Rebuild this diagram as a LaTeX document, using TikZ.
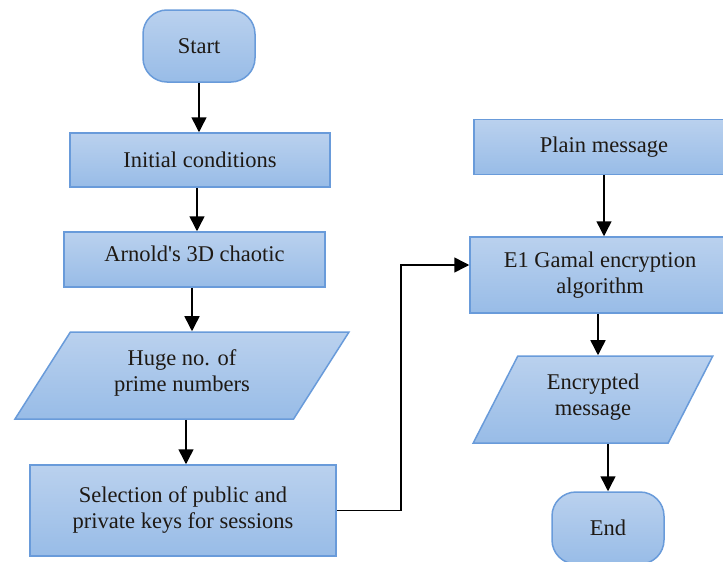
\documentclass[tikz,border=0pt]{standalone}
\usepackage{fontspec}
\setmainfont{Liberation Serif}
\usetikzlibrary{shapes.geometric,arrows.meta}
\definecolor{boxtop}{RGB}{186,209,238}
\definecolor{boxbot}{RGB}{152,188,231}
\definecolor{boxline}{RGB}{105,155,218}
\definecolor{ink}{RGB}{30,25,20}
\begin{document}
\begin{tikzpicture}[x=1pt,y=1pt,
    every node/.style={font=\fontsize{22.5}{26}\selectfont, text=ink, align=center},
    box/.style={draw=boxline, line width=1.5pt, top color=boxtop, bottom color=boxbot, inner sep=0pt},
    startend/.style={box, rounded corners=24pt, minimum width=112pt, minimum height=72pt},
    io/.style={box, trapezium, trapezium stretches=true, minimum height=87pt},
    arr/.style={line width=1.5pt, -{Triangle[length=15pt,width=15pt]}}]
  \useasboundingbox (0,0) rectangle (723,-562);
  \draw
    (199,-46) node[startend] (start) {Start}
    (200,-160) node[box, minimum width=260pt, minimum height=54pt] (init) {Initial conditions}
    (194.5,-259.5) node[box, minimum width=261pt, minimum height=55pt] (arnold) {Arnold\textquotesingle s 3D chaotic\\[-15pt]\mbox{}}
    (182,-375.5) node[io, trapezium left angle=57, trapezium right angle=123, minimum width=335pt] (huge) {Huge no. of\\prime numbers\\[-16pt]\mbox{}}
    (183,-510.5) node[box, minimum width=306pt, minimum height=91pt] (select) {Selection of public and\\private keys for sessions}
    (604,-147) node[box, minimum width=260pt, minimum height=55pt] (plain) {Plain message}
    (600,-275) node[box, minimum width=260pt, minimum height=76pt] (elg) {E1 Gamal encryption\\algorithm}
    (593,-399.5) node[io, trapezium left angle=62, trapezium right angle=118, minimum width=240pt] (enc) {Encrypted\\message\\[-16pt]\mbox{}}
    (608,-528) node[startend] (end) {End};
  \begin{scope}[arr]
    \draw (start.south) -- (start.south |- init.north);
    \draw (init.south -| 197,0) -- (197,0 |- arnold.north);
    \draw (arnold.south -| 192,0) -- (192,0 |- huge.north);
    \draw (huge.south -| 186,0) -- (186,0 |- select.north);
    \draw (select.east) -- ++(64,0) |- ([yshift=10pt]elg.west);
    \draw (plain.south) -- (plain.south |- elg.north);
    \draw (elg.south -| 598,0) -- (598,0 |- enc.north);
    \draw (enc.south -| end) -- (end.north);
  \end{scope}
\end{tikzpicture}
\end{document}
